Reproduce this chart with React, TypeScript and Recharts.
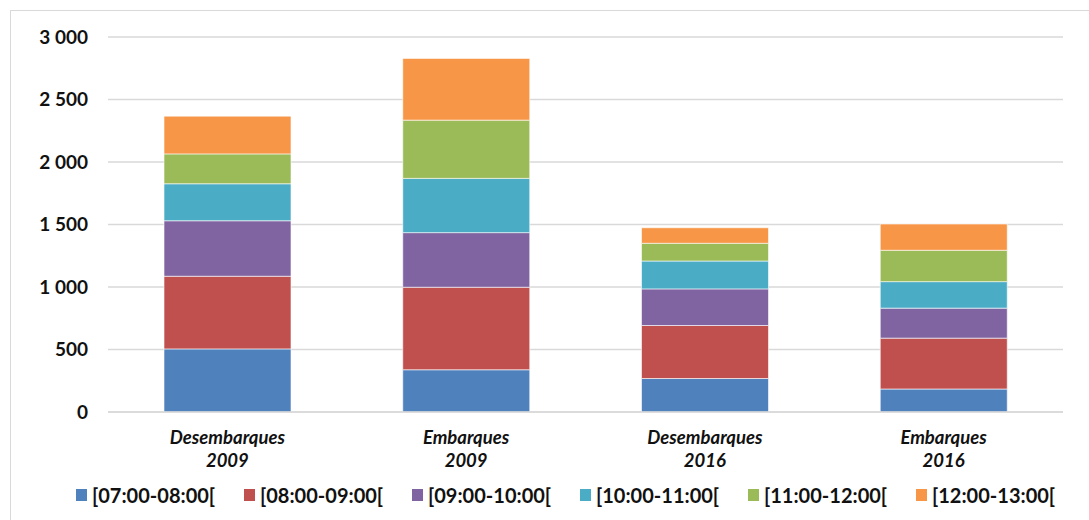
import { Bar, BarChart, CartesianGrid, Legend, XAxis, YAxis } from "recharts";

const CATEGORIES = [
  ["Desembarques", "2009"],
  ["Embarques", "2009"],
  ["Desembarques", "2016"],
  ["Embarques", "2016"],
];

const SERIES = [
  "[07:00-08:00[",
  "[08:00-09:00[",
  "[09:00-10:00[",
  "[10:00-11:00[",
  "[11:00-12:00[",
  "[12:00-13:00[",
];

const h0708 = [505, 338, 268, 184];
const h0809 = [581, 660, 424, 407];
const h0910 = [444, 437, 293, 240];
const h1011 = [296, 434, 223, 212];
const h1112 = [239, 466, 142, 251];
const h1213 = [302, 494, 124, 210];

const VALUES = [h0708, h0809, h0910, h1011, h1112, h1213];
const COLORS = ["#4F81BD", "#C0504D", "#8064A2", "#4BACC6", "#9BBB59", "#F79646"];
const Y_TICKS = [0, 500, 1000, 1500, 2000, 2500, 3000];

const FONT = "Lato, 'Open Sans', sans-serif";

const data = CATEGORIES.map((c, i) => {
  const row: Record<string, string | number> = { name: c.join("\n") };
  SERIES.forEach((s, k) => {
    row[s] = VALUES[k][i];
  });
  return row;
});

const formatThousands = (v: number) =>
  String(v).replace(/\B(?=(\d{3})+(?!\d))/g, " ");

function CategoryTick({ x, y, payload }: any) {
  const [line1, line2] = String(payload.value).split("\n");
  return (
    <text
      x={x}
      y={y}
      textAnchor="middle"
      fill="#111"
      fontFamily={FONT}
      fontSize={18.5}
      fontWeight={700}
      fontStyle="italic"
    >
      <tspan x={x} dy={30}>{line1}</tspan>
      <tspan x={x} dy={23}>{line2}</tspan>
    </text>
  );
}

function LegendContent() {
  return (
    <div
      style={{
        display: "flex",
        paddingLeft: 76,
        fontFamily: FONT,
        fontSize: 20,
        fontWeight: 700,
        color: "#111",
        alignItems: "center",
        height: 40,
      }}
    >
      {SERIES.map((s, k) => (
        <div key={s} style={{ width: 168, display: "flex", alignItems: "center" }}>
          <span
            style={{
              display: "inline-block",
              width: 11,
              height: 12,
              background: COLORS[k],
              marginRight: 5,
            }}
          />
          <span>{s}</span>
        </div>
      ))}
    </div>
  );
}

export default function App() {
  return (
    <div style={{ position: "absolute", left: 0, top: 0, width: 1089, height: 520, background: "#fff" }}>
      <div
        style={{
          position: "absolute",
          left: 10,
          top: 10,
          width: 1090,
          height: 520,
          border: "1.5px solid #d9d9d9",
          boxSizing: "border-box",
        }}
      />
      <BarChart
        width={1089}
        height={520}
        data={data}
        margin={{ top: 37, right: 26, bottom: 5, left: 0 }}
        barSize={127}
      >
        <CartesianGrid vertical={false} stroke="#d9d9d9" strokeWidth={1.5} />
        <XAxis
          dataKey="name"
          height={63}
          tickLine={false}
          tickSize={0}
          axisLine={{ stroke: "#d9d9d9", strokeWidth: 1.5 }}
          tick={<CategoryTick />}
          interval={0}
        />
        <YAxis
          width={108}
          domain={[0, 3000]}
          ticks={Y_TICKS}
          tickFormatter={formatThousands}
          axisLine={false}
          tickLine={false}
          tickSize={0}
          tickMargin={20}
          tick={{ fill: "#111", fontFamily: FONT, fontSize: 19, fontWeight: 700 }}
        />
        <Legend
          verticalAlign="bottom"
          height={40}
          wrapperStyle={{ left: 0, width: 1089 }}
          content={<LegendContent />}
        />
        {SERIES.map((s, k) => (
          <Bar
            key={s}
            dataKey={s}
            stackId="a"
            fill={COLORS[k]}
            stroke="#ffffff"
            strokeWidth={0.6}
            isAnimationActive={false}
          />
        ))}
      </BarChart>
    </div>
  );
}
